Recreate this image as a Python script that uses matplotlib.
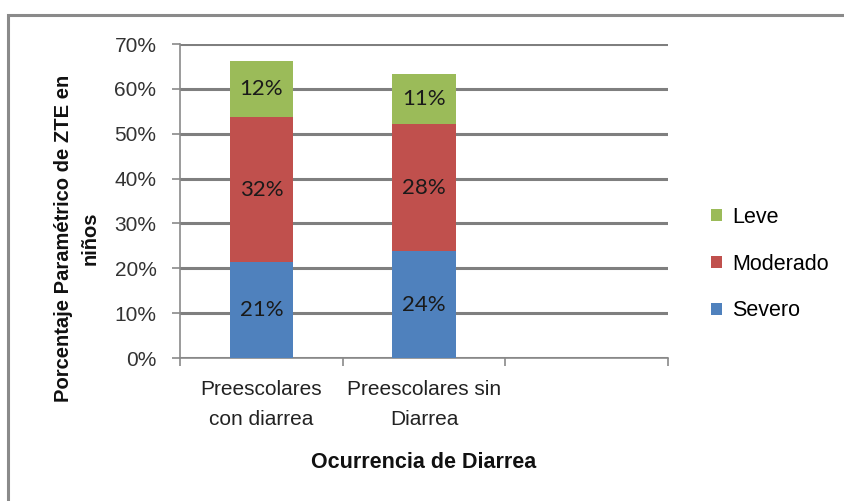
import matplotlib
matplotlib.use("Agg")
import matplotlib.pyplot as plt
import numpy as np
from matplotlib.patches import Rectangle
from matplotlib.ticker import MultipleLocator, FuncFormatter

# data
categories = ["Preescolares\ncon diarrea", "Preescolares sin\nDiarrea", ""]
severo = [21.3, 23.8, 0]
moderado = [32.4, 28.4, 0]
leve = [12.4, 11.2, 0]
series_names = ["Severo", "Moderado", "Leve"]
colors = ["#4F81BD", "#C0504D", "#9BBB59"]

sans = ["Liberation Sans", "DejaVu Sans"]

fig = plt.figure(figsize=(8.44, 5.01), dpi=100)
fig.patch.set_facecolor("white")

# chart frame (left/top visible, rest cut off like the reference)
fig.patches.append(Rectangle((8 / 844, -0.05), 1.1, 1 - 15 / 501 + 0.05,
                             transform=fig.transFigure, fill=False,
                             edgecolor="#8a8a8a", linewidth=2.2))

ax = fig.add_axes([180 / 844, 1 - 358 / 501, 488 / 844, 314 / 501])

x = np.arange(len(categories))
width = 0.39
bottom = np.zeros(len(categories))
for vals, name, col in zip([severo, moderado, leve], series_names, colors):
    vals = np.array(vals, dtype=float)
    ax.bar(x, vals, width, bottom=bottom, color=col, label=name, zorder=3)
    for xi, v, b in zip(x, vals, bottom):
        if v > 0:
            ax.text(xi, b + v / 2, f"{round(v):d}%", ha="center", va="center",
                    fontsize=16, family=["Lato", "DejaVu Sans"], color="#1a1a1a", zorder=4)
    bottom += vals

ax.set_xlim(-0.5, len(categories) - 0.5)
ax.set_ylim(0, 70)
ax.yaxis.set_major_locator(MultipleLocator(10))
ax.yaxis.set_major_formatter(FuncFormatter(lambda v, p: f"{v:.0f}%"))
ax.grid(axis="y", color="#7f7f7f", linewidth=2.2, zorder=0)
ax.set_axisbelow(True)

for s in ["top", "right"]:
    ax.spines[s].set_visible(False)
ax.spines["left"].set_color("#8a8a8a")
ax.spines["left"].set_linewidth(1.2)
ax.spines["bottom"].set_color("#8a8a8a")
ax.spines["bottom"].set_linewidth(1.2)

ax.set_xticks(x)
ax.set_xticklabels(categories, family=sans, fontsize=15, color="#222222",
                   linespacing=1.7)
ax.set_xticks(np.arange(len(categories) + 1) - 0.5, minor=True)
ax.tick_params(axis="x", which="major", length=0, pad=16)
ax.tick_params(axis="x", which="minor", length=6, color="#8a8a8a", width=1.2)
ax.tick_params(axis="y", length=6, color="#8a8a8a", width=1.2, pad=11)
for lab in ax.get_yticklabels():
    lab.set_family(sans)
    lab.set_fontsize(15)
    lab.set_color("#333333")

fig.text(424 / 844, 1 - 463 / 501, "Ocurrencia de Diarrea", fontsize=15.5,
         fontweight="bold", family=sans, color="#111111",
         ha="center", va="center")
fig.text(77 / 844, 1 - 238 / 501, "Porcentaje Paramétrico de ZTE en\nniños",
         fontsize=14.5, fontweight="bold", family=sans, color="#111111",
         rotation=90, ha="center", va="center", multialignment="center",
         linespacing=1.5)

handles, labels = ax.get_legend_handles_labels()
leg = fig.legend(handles[::-1], labels[::-1], loc="center left",
                 bbox_to_anchor=(711 / 844, 1 - 264 / 501), frameon=False,
                 prop={"family": sans, "size": 15.5}, handlelength=0.5,
                 handleheight=0.5, handletextpad=0.5, labelspacing=1.2,
                 borderpad=0, borderaxespad=0)

fig.savefig("out.png", dpi=100, facecolor="white")
